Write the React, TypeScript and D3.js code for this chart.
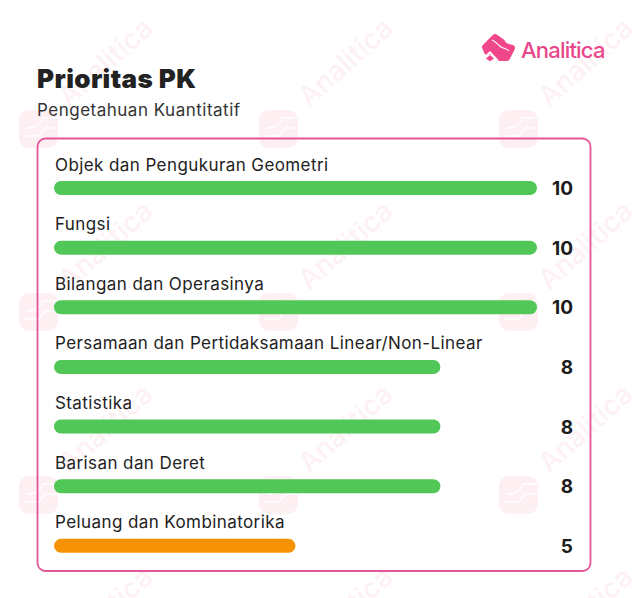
import * as d3 from 'd3';

const categories = [
  'Objek dan Pengukuran Geometri',
  'Fungsi',
  'Bilangan dan Operasinya',
  'Persamaan dan Pertidaksamaan Linear/Non-Linear',
  'Statistika',
  'Barisan dan Deret',
  'Peluang dan Kombinatorika',
];
const values = [10, 10, 10, 8, 8, 8, 5];
const title = 'Prioritas PK';
const subtitle = 'Pengetahuan Kuantitatif';
const brand = 'Analitica';

// watermark grid, repeated across the page
const markCols = [0, 240, 480];
const markRows = [0, 183, 366, 549];

const width = 639;
const height = 598;
const font = 'Inter, sans-serif';

const x = d3.scaleLinear().domain([0, 10]).range([54, 537]);
const y = d3.scaleBand().domain(categories).range([172, 589.5]).padding(0);
const barColor = (v: number) => (v > 5 ? '#50c756' : '#f79205');

function Logo({ fill }: { fill: string }) {
  return (
    <g>
      <path
        d="M4 14 L14 4 L21 9 L24 13 L31 15 L26 25 L19 25 L13 19 L6 19 Z"
        fill={fill}
        stroke={fill}
        strokeWidth={6}
        strokeLinejoin="round"
      />
      <path d="M2 26 L9 19.5 L16.5 27.5" fill="none" stroke="#fff" strokeWidth={2} />
      <path d="M9 23 L12 25.5 L9 27.5 L6 25.5 Z" fill={fill} stroke={fill} strokeWidth={1.5} strokeLinejoin="round" />
      <path d="M11 7 C14 8 17 12 20 14 C23 16 26 15 28 18" fill="none" stroke="#fff" strokeWidth={1.1} />
    </g>
  );
}

function Watermark({ dx, dy }: { dx: number; dy: number }) {
  return (
    <g transform={`translate(${dx},${dy})`}>
      <g transform="translate(19,110)" opacity={0.08}>
        <rect x={0} y={0} width={39} height={38} rx={10} fill="#f5476f" />
        <path d="M8 18 C16 18 20 16 24 8 L38 8" fill="none" stroke="#fff" strokeWidth={1.5} />
        <path d="M6 26 L20 26 L26 18 L39 18" fill="none" stroke="#fff" strokeWidth={1.5} />
      </g>
      <text
        transform="translate(69,108) rotate(-42)"
        fontFamily={font}
        fontSize={28}
        fontWeight={500}
        fill="#f5476f"
        opacity={0.07}
      >
        {brand}
      </text>
    </g>
  );
}

export default function App() {
  return (
    <svg
      width={width}
      height={height}
      viewBox={`0 0 ${width} ${height}`}
      style={{ position: 'absolute', left: 0, top: 0, background: '#fff' }}
    >
      {markRows.map((r) => markCols.map((c) => <Watermark key={`${r}-${c}`} dx={c} dy={r} />))}

      <text x={37} y={88} fontFamily={font} fontSize={26} fontWeight={900} fill="#222" letterSpacing={0.4}>
        {title}
      </text>
      <text x={37} y={116} fontFamily={font} fontSize={17} fill="#333" letterSpacing={0.5}>
        {subtitle}
      </text>

      <g transform="translate(481,33)">
        <Logo fill="#f0468a" />
      </g>
      <text x={521} y={58} fontFamily={font} fontSize={22} fontWeight={500} fill="#e8478c" letterSpacing={-0.8}>
        {brand}
      </text>

      <rect x={37.5} y={138.5} width={553} height={432.5} rx={8} fill="none" stroke="#e4559a" strokeWidth={1.8} />

      {categories.map((c, i) => {
        const top = y(c) ?? 0;
        return (
          <g key={c}>
            <text x={55} y={top - 1.5} fontFamily={font} fontSize={17} fill="#222" letterSpacing={0.41}>
              {c}
            </text>
            <rect x={x(0)} y={top + 9} width={x(values[i]) - x(0)} height={14} rx={7} fill={barColor(values[i])} />
            <text x={573} y={top + 23} textAnchor="end" fontFamily={font} fontSize={19} fontWeight={700} fill="#1c1c1c">
              {values[i]}
            </text>
          </g>
        );
      })}
    </svg>
  );
}
